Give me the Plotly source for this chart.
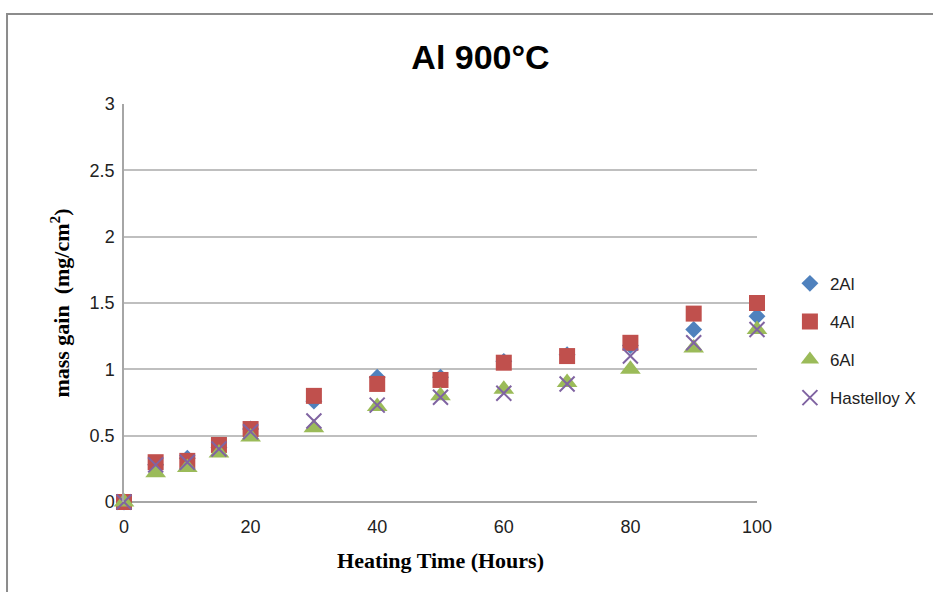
import plotly.graph_objects as go

# Heating time (hours)
hours = [0, 5, 10, 15, 20, 30, 40, 50, 60, 70, 80, 90, 100]

# Mass gain (mg/cm^2) per alloy
al2 = [0.0, 0.28, 0.33, 0.41, 0.55, 0.76, 0.94, 0.94, 1.06, 1.11, 1.18, 1.30, 1.40]
al4 = [0.0, 0.30, 0.31, 0.43, 0.55, 0.80, 0.89, 0.92, 1.05, 1.10, 1.20, 1.42, 1.50]
al6 = [0.0, 0.22, 0.26, 0.37, 0.49, 0.56, 0.72, 0.80, 0.85, 0.90, 1.00, 1.16, 1.30]
hastelloy = [0.0, 0.28, 0.30, 0.40, 0.53, 0.61, 0.73, 0.79, 0.82, 0.89, 1.10, 1.20, 1.30]

series_names = ["2Al", "4Al", "6Al", "Hastelloy X"]
y_ticks = [0, 0.5, 1, 1.5, 2, 2.5, 3]
x_ticks = [0, 20, 40, 60, 80, 100]

sans = "Liberation Sans Narrow, Liberation Sans, Arial"
tick_font = dict(family=sans, size=18, color="#222222")
serif_bold = dict(family="Liberation Serif, Times New Roman, serif", size=22, color="#000000")

fig = go.Figure()

styles = [
    (al2, dict(symbol="diamond", size=13, color="#4F81BD")),
    (al4, dict(symbol="square", size=16, color="#C0504D")),
    (al6, dict(symbol="triangle-up", size=18, color="#9BBB59")),
    (hastelloy, dict(symbol="x-thin-open", size=15, color="#8064A2",
                     line=dict(color="#8064A2", width=2))),
]

for i, (name, (vals, mk)) in enumerate(zip(series_names, styles)):
    fig.add_trace(go.Scatter(
        x=hours, y=vals, name=name, mode="markers",
        marker=mk, legendgroup=f"g{i}", cliponaxis=False,
    ))

# outer chart frame
fig.add_shape(type="rect", xref="paper", yref="paper",
              x0=-0.1848, x1=1.6, y0=-0.6, y1=1.226,
              line=dict(color="#8C8C8C", width=2), layer="below")

fig.update_layout(
    width=933, height=592,
    margin=dict(l=124, r=176, t=104, b=90, autoexpand=False),
    paper_bgcolor="white", plot_bgcolor="white",
    title=dict(text="<b>Al 900°C</b>", x=0.515, xanchor="center",
               y=0.903, yanchor="middle",
               font=dict(family=sans, size=34, color="#000000")),
    xaxis=dict(range=[0, 100], tickvals=x_ticks, showgrid=False, zeroline=False,
               showline=False, ticks="", tickfont=tick_font, ticklabelstandoff=12,
               title=dict(text="<b>Heating Time (Hours)</b>", font=serif_bold, standoff=16)),
    yaxis=dict(range=[0, 3], tickvals=y_ticks, showgrid=True, gridcolor="#BFBFBF",
               gridwidth=1.5, zeroline=True, zerolinecolor="#A6A6A6", zerolinewidth=1.5,
               showline=True, linecolor="#A6A6A6", linewidth=1.5, ticks="",
               tickfont=tick_font, ticklabelstandoff=4,
               title=dict(text="<b>mass gain  (mg/cm<sup>2</sup>)</b>", font=serif_bold, standoff=14)),
    legend=dict(x=1.052, xanchor="left", y=0.405, yanchor="middle",
                font=dict(family=sans, size=17, color="#222222"),
                traceorder="grouped", tracegroupgap=13, itemwidth=30,
                bgcolor="rgba(0,0,0,0)"),
    showlegend=True,
)

fig.write_html("out.html")
